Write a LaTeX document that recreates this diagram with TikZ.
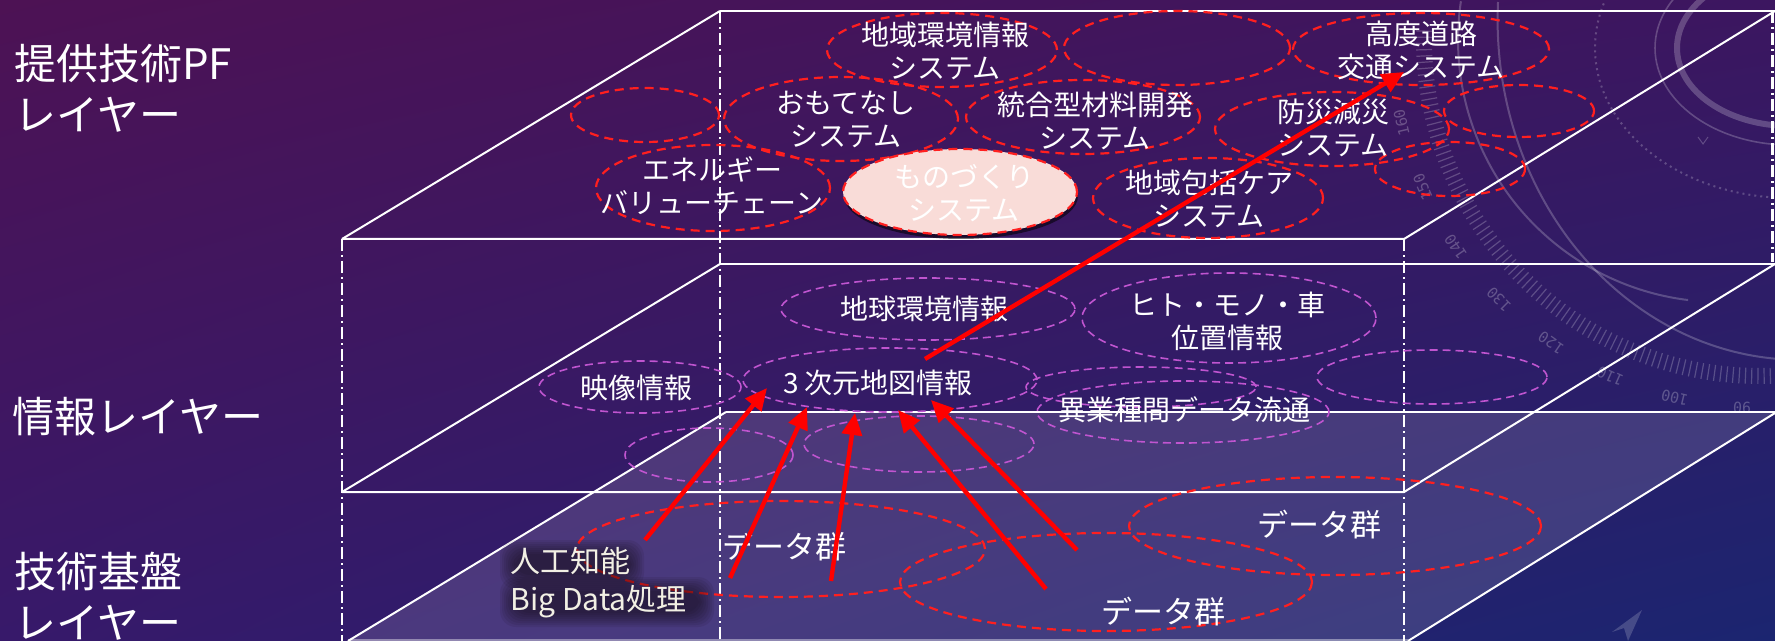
\documentclass[tikz,border=0pt]{standalone}
\usepackage{fontspec}
\setmainfont{Noto Sans CJK JP}
\newfontfamily\monofnt{DejaVu Sans Mono}
\usetikzlibrary{shapes.geometric,arrows.meta,shadows,shadings}
\definecolor{bgUL}{HTML}{4D1254}
\definecolor{bgUR}{HTML}{3C1660}
\definecolor{bgLL}{HTML}{37196A}
\definecolor{bgLR}{HTML}{1B2570}
\definecolor{dred}{HTML}{FF1F1F}
\definecolor{dpur}{HTML}{C055D0}
\definecolor{pinkf}{HTML}{F9DCD8}
\definecolor{glowc}{HTML}{120A10}
\definecolor{aiwhite}{HTML}{F2F0E4}
\newcommand\fitem{\fontsize{14pt}{16.5pt}\selectfont}
\newcommand\fdata{\fontsize{15.5pt}{18pt}\selectfont}
\newcommand\flayer{\fontsize{21pt}{25.5pt}\selectfont}
\newcommand\fai{\fontsize{15pt}{19pt}\selectfont}
\tikzset{
  redell/.style={ellipse, draw=dred, line width=1.1pt, dash pattern=on 4.5pt off 3pt, inner sep=0pt, outer sep=0pt},
  purell/.style={ellipse, draw=dpur, line width=0.8pt, dash pattern=on 4pt off 2.5pt, inner sep=0pt, outer sep=0pt},
  el/.style 2 args={minimum width=#1pt, minimum height=#2pt},
  txt/.style={text=white, align=center, inner sep=0pt, font=\fitem},
  datatxt/.style={text=white, align=center, inner sep=0pt, font=\fdata},
  layertxt/.style={text=white, align=left, anchor=west, inner sep=0pt, font=\flayer},
  wl/.style={draw=white, line width=1pt},
  ddot/.style={draw=white, line width=1pt, dash pattern=on 6pt off 2pt on 1pt off 2pt},
  arr/.style={draw=red, line width=2.2pt, -{Triangle[length=11pt,width=10pt]}},
  deco/.style={draw=white, opacity=0.22},
  halo/.style={fill=glowc, opacity=0.085},
}
\begin{document}
\begin{tikzpicture}[x=0.5pt,y=-0.5pt]
\useasboundingbox (0,0) rectangle (1775,641);
\clip (0,0) rectangle (1775,641);
% background
\shade[upper left=bgUL, upper right=bgUR, lower left=bgLL, lower right=bgLR] (0,0) rectangle (1775,641);
% decorative dial
\draw[deco, line width=3pt] (1790,48) ellipse[x radius=113, y radius=78];
\draw[deco, line width=0.8pt] (1790,48) ellipse[x radius=135, y radius=97];
\draw[deco, line width=1pt, dotted] (1790,48) ellipse[x radius=195, y radius=150];
\draw[deco, line width=0.5pt] (1698,137) -- (1703,144) -- (1708,137);
\draw[deco, line width=1pt] (1720,40) ++(188.5:262) arc[start angle=188.5, end angle=97, radius=262];
\draw[deco, line width=1pt] (1800,20) ++(-302,-18) arc[start angle=183, end angle=80, x radius=302, y radius=340];
\begin{scope}[shift={(1760,40)}]
  \foreach \a in {84,85.06,...,182} \draw[deco, line width=0.6pt] (\a:328) -- (\a:344);
  \foreach \n [count=\i from 0] in {160,150,140,130,120,110,100,90} {
    \pgfmathsetmacro\ang{167-10.6*\i}
    \node[text=white, opacity=0.25, font=\monofnt\fontsize{7.5pt}{9pt}\selectfont, rotate=-\ang-90] (dial\n) at (\ang:368) {\n};
  }
\end{scope}
\fill[white, opacity=0.18] (1612,632) -- (1642,610) -- (1628,641) -- (1624,628) -- cycle;
% bottom plane
\fill[white, opacity=0.13] (726,412) -- (1775,412) -- (1775,413) -- (1408,641) -- (348,641) -- cycle;
\draw[wl] (726,412) -- (1775,412);
\draw[wl] (726,412) -- (348,641);
\draw[wl] (1775,413) -- (1408,641);
\draw[draw=white, opacity=0.4, line width=1pt] (348,640) -- (1408,640);
% middle layer
\draw[wl] (720,264) -- (1775,264);
\draw[wl] (342,492) -- (1404,492) -- (1775,264);
\draw[wl] (342,492) -- (720,264);
% top layer
\draw[wl] (720,11) -- (1775,11);
\draw[wl] (342,239) -- (1404,239) -- (1775,11);
\draw[wl] (342,239) -- (720,11);
% vertical dash-dot lines
\draw[ddot] (342,239) -- (342,641);
\draw[ddot] (720,11) -- (720,641);
\draw[ddot] (1404,239) -- (1404,641);
\draw[ddot, line width=1.5pt] (1772,11) -- (1772,262);
% layer labels
\node[layertxt] (lay1) at (14,88) {提供技術PF\\レイヤー};
\node[layertxt] (lay2) at (12,417) {情報レイヤー};
\node[layertxt] (lay3) at (14,596) {技術基盤\\レイヤー};
% top layer ellipses
\node[redell, el={115}{37}] (env) at (942,50) {};
\node[redell, el={113}{37}] (empA) at (1177,48) {};
\node[redell, el={128}{36}] (road) at (1421,49) {};
\node[redell, el={74}{27}] (empB) at (645,115) {};
\node[redell, el={117}{42}] (omote) at (841,119) {};
\node[redell, el={117}{37}] (mat) at (1083,117) {};
\node[redell, el={117}{37}] (bousai) at (1332,129) {};
\node[redell, el={75}{26}] (empC) at (1519,111) {};
\node[redell, el={75}{27}] (empD) at (1450,169) {};
\node[redell, el={117}{43}] (energy) at (713,188) {};
\node[redell, el={115}{40}] (care) at (1208,198) {};
\node[redell, el={117}{43}, fill=pinkf, drop shadow={shadow xshift=0.5pt, shadow yshift=-2pt, opacity=0.55, fill=black}] (mono) at (960,192) {};
\node[txt] (envt) at (945,51) {地域環境情報\\システム};
\node[txt] (roadt) at (1421,50) {高度道路\\交通システム};
\node[txt] (omotet) at (846,119) {おもてなし\\システム};
\node[txt] (matt) at (1095,121) {統合型材料開発\\システム};
\node[txt] (bousait) at (1333,128) {防災減災\\システム};
\node[txt] (energyt) at (712,186) {エネルギー\\バリューチェーン};
\node[txt] (monot) at (964,193) {ものづくり\\システム};
\node[txt] (caret) at (1209,199) {地域包括ケア\\システム};
% middle layer ellipses
\node[purell, el={147}{31}] (earth) at (928,309) {};
\node[purell, el={147}{45}] (hito) at (1229,318) {};
\node[purell, el={101}{26}] (eizou) at (640,387) {};
\node[purell, el={147}{32}] (map3d) at (890,380) {};
\node[purell, el={115}{20}] (ikoA) at (1141,387) {};
\node[purell, el={146}{31}] (iko) at (1183,412) {};
\node[purell, el={115}{27}] (empE) at (1432,377) {};
\node[purell, el={84}{27}] (empF) at (709,455) {};
\node[purell, el={115}{28}] (empG) at (919,444) {};
\node[txt] (eartht) at (924,309) {地球環境情報};
\node[txt] (hitot) at (1227,321) {ヒト・モノ・車\\位置情報};
\node[txt] (eizout) at (636,388) {映像情報};
\node[txt] (map3dt) at (878,383) {3 次元地図情報};
\node[txt] (ikot) at (1184,410) {異業種間データ流通};
% bottom layer ellipses
\node[redell, el={204}{48}] (dataA) at (781,549) {};
\node[redell, el={206}{49}] (dataB) at (1335,526) {};
\node[redell, el={206}{49}] (dataC) at (1106,582) {};
\node[datatxt] (dataAt) at (784,547) {データ群};
\node[datatxt] (dataBt) at (1319,525) {データ群};
\node[datatxt] (dataCt) at (1163,612) {データ群};
% AI text with soft dark halo
\foreach \e in {0,2,...,14} {
  \fill[halo, rounded corners=8pt] ({514-\e},{554-\e}) rectangle ({630+\e},{575+\e});
  \fill[halo, rounded corners=8pt] ({514-\e},{591-\e}) rectangle ({700+\e},{613+\e});
}
\node[text=aiwhite, align=left, anchor=west, inner sep=0pt, font=\fai] (ai) at (510,583) {人工知能\\Big Data処理};
% arrows
\coordinate (s1) at (645,540); \coordinate (t1) at (767,388);
\coordinate (s2) at (730,578); \coordinate (t2) at (807,407);
\coordinate (s3) at (831,581); \coordinate (t3) at (855,413);
\coordinate (s4) at (1046,589); \coordinate (t4) at (898,410);
\coordinate (s5) at (1077,550); \coordinate (t5) at (931,400);
\coordinate (s6) at (925,359); \coordinate (t6) at (1404,72);
\draw[arr] (s1) -- (t1);
\draw[arr] (s2) -- (t2);
\draw[arr] (s3) -- (t3);
\draw[arr] (s4) -- (t4);
\draw[arr] (s5) -- (t5);
\draw[arr] (s6) -- (t6);
\end{tikzpicture}
\end{document}
